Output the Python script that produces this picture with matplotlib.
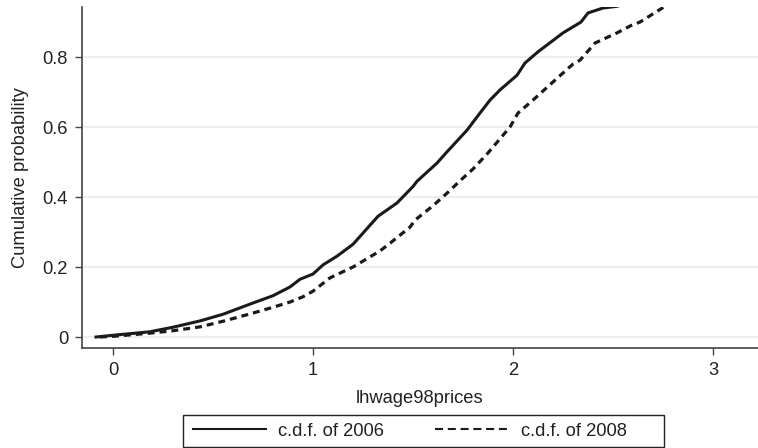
import matplotlib
matplotlib.use("Agg")
import matplotlib.pyplot as plt

plt.rcParams['font.family'] = ['Liberation Sans', 'DejaVu Sans']
plt.rcParams['lines.scale_dashes'] = False

# c.d.f. of 2006 (solid)
x_2006 = [-0.085, 0.0, 0.185, 0.3, 0.435, 0.55, 0.685, 0.8, 0.885, 0.935,
          1.0, 1.05, 1.12, 1.2, 1.25, 1.325, 1.42, 1.5, 1.52, 1.62,
          1.665, 1.77, 1.835, 1.885, 1.935, 2.02, 2.06, 2.125, 2.25, 2.34,
          2.375, 2.45, 2.52, 2.6]
y_2006 = [0.0, 0.005, 0.015, 0.028, 0.046, 0.065, 0.094, 0.118, 0.143, 0.165,
          0.18, 0.206, 0.231, 0.265, 0.297, 0.345, 0.383, 0.43, 0.445, 0.497,
          0.526, 0.591, 0.64, 0.677, 0.706, 0.748, 0.783, 0.815, 0.869, 0.9,
          0.926, 0.94, 0.945, 0.96]

# c.d.f. of 2008 (dashed)
x_2008 = [-0.065, 0.0, 0.185, 0.3, 0.435, 0.55, 0.685, 0.8, 0.885, 0.95,
          1.0, 1.085, 1.2, 1.335, 1.385, 1.485, 1.51, 1.6, 1.67, 1.74,
          1.8, 1.875, 1.985, 2.025, 2.1, 2.21, 2.3, 2.335, 2.41, 2.52,
          2.59, 2.635, 2.76, 2.85]
y_2008 = [0.0, 0.002, 0.011, 0.018, 0.029, 0.045, 0.066, 0.085, 0.1, 0.115,
          0.131, 0.169, 0.2, 0.246, 0.268, 0.314, 0.334, 0.375, 0.411, 0.449,
          0.48, 0.526, 0.6, 0.64, 0.677, 0.734, 0.78, 0.791, 0.84, 0.869,
          0.89, 0.9, 0.945, 0.96]

xticks = [0, 1, 2, 3]
yticks = [0, 0.2, 0.4, 0.6, 0.8]
ytick_labels = ['0', '0.2', '0.4', '0.6', '0.8']

fs = 13.2
W, H = 758, 448

fig = plt.figure(figsize=(7.58, 4.48), dpi=100)
ax = fig.add_axes([82 / W, 1 - 348 / H, 1 - 82 / W, (348 - 7) / H])

ax.plot(x_2006, y_2006, color='#1a1a1a', lw=2.2, label='c.d.f. of 2006')
ax.plot(x_2008, y_2008, color='#1a1a1a', lw=2.3, dashes=(5, 3.6),
        label='c.d.f. of 2008')

ax.set_xlim(-0.155, 3.225)
ax.set_ylim(-0.0314, 0.943)
ax.set_xticks(xticks)
ax.set_yticks(yticks)
ax.set_yticklabels(ytick_labels)
ax.yaxis.grid(True, color='#eeeeee', lw=1.5)
ax.set_axisbelow(True)

for s in ['top', 'right']:
    ax.spines[s].set_visible(False)
for s in ['left', 'bottom']:
    ax.spines[s].set_color('#444444')
    ax.spines[s].set_linewidth(1.2)
ax.tick_params(direction='out', length=5, width=1, color='#444444',
               labelsize=fs, labelcolor='#222222', pad=5)

ax.set_xlabel('lhwage98prices', fontsize=fs, color='#222222', labelpad=8)
ax.set_ylabel('Cumulative probability', fontsize=fs, color='#222222', labelpad=10)

# legend without its own frame; Stata-style box drawn separately
leg = fig.legend(loc='center left', bbox_to_anchor=(193 / W, 1 - 431 / H),
                 ncol=2, fontsize=fs, frameon=False,
                 handlelength=4.0, handletextpad=0.65, columnspacing=2.8,
                 borderpad=0, borderaxespad=0)
for line in leg.get_lines():
    line.set_linewidth(1.5)
leg.get_lines()[1].set_dashes((5.8, 3.4))
for t in leg.get_texts():
    t.set_color('#222222')

fig.add_artist(plt.Rectangle((183 / W, 1 - 447 / H), 481 / W, 32 / H,
                             transform=fig.transFigure, fill=False,
                             ec='#222222', lw=1))

fig.savefig('out.png', dpi=100)
